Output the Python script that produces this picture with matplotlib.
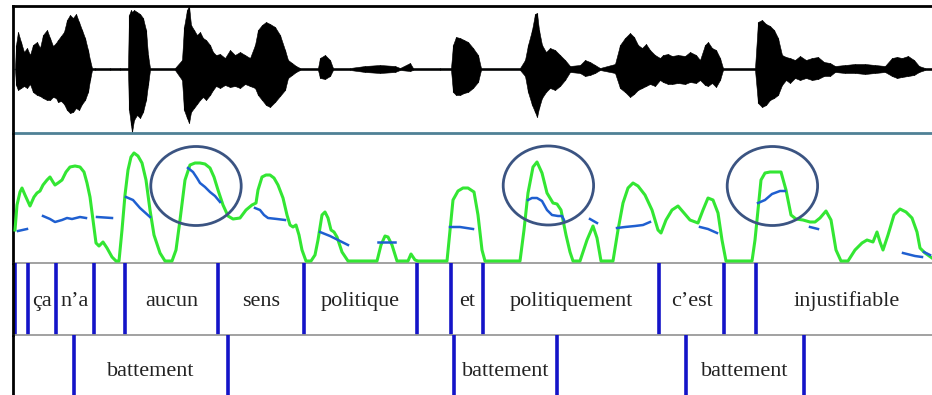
import matplotlib
matplotlib.use("Agg")
import matplotlib.pyplot as plt
from matplotlib.patches import Ellipse

# time axis in ms
wave_t = [10, 15, 25, 40, 55, 70, 85, 100, 120, 135, 150, 170, 185, 200, 215, 225, 240, 255, 270, 285,
          300, 315, 330, 345, 360, 375, 385, 395, 410, 485, 535, 575, 580, 590, 595, 605, 620, 635, 650,
          665, 675, 685, 810, 845, 855, 870, 880, 890, 905, 920, 935, 950, 965, 985, 1000, 1015, 1035,
          1060, 1085, 1110, 1135, 1160, 1185, 1210, 1225, 1245, 1265, 1285, 1310, 1335, 1360, 1375, 1395,
          1415, 1435, 1525, 1535, 1560, 1585, 1600, 1685, 1760, 1835, 1910, 1935, 1985, 2000, 2135, 2190,
          2200, 2215, 2235, 2255, 2275, 2300, 2325, 2340, 2535, 2560, 2575, 2595, 2610, 2620, 2630, 2645,
          2665, 2685, 2710, 2735, 2760, 2785, 2835, 2860, 2885, 2910, 2935, 3010, 3035, 3060, 3085, 3105,
          3125, 3145, 3165, 3185, 3210, 3235, 3250, 3275, 3295, 3325, 3360, 3385, 3415, 3435, 3460, 3475,
          3495, 3515, 3535, 3550, 3710, 3725, 3745, 3765, 3785, 3805, 3825, 3845, 3865, 3885, 3910, 3935,
          3965, 3995, 4025, 4055, 4085, 4110, 4160, 4210, 4260, 4310, 4360, 4395, 4420, 4445, 4475, 4505,
          4530, 4560, 4595]
wave_up = [0, 24, 37, 27, 17, 21, 14, 24, 27, 21, 34, 39, 31, 23, 26, 29, 33, 37, 49, 54,
           51, 55, 47, 39, 31, 19, 9, 1, 1, 1, 1, 1, 54, 59, 57, 59, 57, 55, 51,
           39, 14, 1, 1, 9, 42, 59, 63, 44, 39, 34, 37, 31, 29, 24, 17, 14, 15,
           11, 19, 14, 17, 14, 11, 24, 39, 44, 47, 45, 42, 34, 19, 9, 6,
           3, 1, 1, 11, 14, 9, 1, 1, 3, 4, 3, 1, 6, 1, 1, 1,
           24, 32, 31, 29, 27, 21, 14, 1, 1, 9, 24, 39, 55, 56, 39, 24,
           17, 21, 19, 14, 9, 3, 4, 9, 7, 4, 1, 5, 24, 31, 36, 32,
           24, 21, 25, 19, 14, 11, 14, 15, 13, 14, 13, 17, 14, 9, 24, 27,
           21, 19, 11, 1, 1, 47, 49, 45, 43, 39, 31, 14, 12, 11, 9, 13,
           9, 11, 12, 7, 6, 3, 4, 5, 5, 4, 3, 11, 12, 11, 13, 9,
           3, 1, 1]
wave_dn = [0, 16, 21, 19, 17, 19, 15, 23, 26, 27, 29, 31, 31, 28, 29, 33, 32, 35, 41, 44,
           43, 39, 41, 35, 31, 23, 11, 1, 1, 1, 1, 1, 41, 56, 63, 51, 46, 49, 43,
           31, 16, 1, 1, 11, 41, 49, 54, 43, 39, 35, 31, 28, 31, 26, 21, 17, 19,
           16, 18, 17, 19, 15, 17, 19, 26, 31, 36, 38, 33, 27, 21, 9, 6,
           3, 1, 1, 9, 10, 7, 1, 1, 3, 4, 3, 1, 2, 1, 1, 1,
           23, 26, 26, 24, 23, 19, 13, 1, 1, 7, 23, 36, 43, 48, 39, 29,
           23, 19, 21, 17, 11, 3, 4, 7, 6, 4, 1, 4, 19, 23, 28, 25,
           21, 19, 17, 15, 17, 11, 13, 15, 15, 14, 15, 13, 14, 11, 16, 17,
           14, 18, 11, 1, 1, 34, 38, 36, 31, 29, 26, 16, 11, 14, 9, 11,
           9, 11, 10, 7, 7, 3, 4, 4, 5, 4, 3, 7, 9, 8, 7, 6,
           3, 1, 1]

# intensity curve (green)
int_t = [10, 20, 35, 45, 60, 85, 105, 120, 135, 150, 170, 185, 200, 210, 225, 245, 265, 285, 310, 335,
         355, 370, 385, 400, 415, 430, 450, 470, 495, 515, 530, 545, 560, 575, 590, 605, 625, 645, 665,
         685, 705, 735, 760, 795, 815, 835, 860, 885, 910, 935, 960, 985, 1005, 1025, 1050, 1075, 1100,
         1135, 1165, 1195, 1215, 1225, 1245, 1265, 1285, 1305, 1325, 1350, 1370, 1385, 1400, 1415, 1430,
         1445, 1465, 1490, 1510, 1525, 1545, 1560, 1575, 1590, 1605, 1620, 1645, 1675, 1820, 1840, 1860,
         1875, 1895, 1920, 1975, 1990, 2010, 2025, 2170, 2185, 2200, 2225, 2250, 2275, 2305, 2325, 2345,
         2360, 2535, 2555, 2575, 2600, 2620, 2645, 2670, 2700, 2720, 2740, 2765, 2785, 2800, 2835, 2870,
         2900, 2920, 2940, 3000, 3025, 3050, 3075, 3100, 3125, 3160, 3195, 3225, 3240, 3265, 3295, 3325,
         3355, 3385, 3425, 3450, 3475, 3500, 3525, 3545, 3565, 3695, 3710, 3725, 3740, 3760, 3785, 3840,
         3865, 3890, 3915, 3950, 3985, 4010, 4035, 4065, 4090, 4115, 4140, 4175, 4210, 4245, 4270, 4300,
         4320, 4335, 4350, 4375, 4405, 4435, 4465, 4495, 4520, 4535, 4560, 4595]
int_v = [33, 58, 71, 75, 68, 57, 66, 70, 72, 78, 83, 86, 81, 78, 80, 83, 91, 96, 97, 96,
         91, 80, 66, 43, 20, 17, 21, 15, 6, 2, 2, 33, 68, 93, 106, 110, 107, 100, 83,
         53, 28, 10, 2, 2, 13, 43, 83, 98, 100, 100, 99, 95, 86, 73, 58, 47, 44,
         45, 53, 58, 60, 73, 86, 88, 88, 85, 78, 65, 48, 38, 36, 38, 28,
         13, 2, 2, 8, 23, 48, 51, 45, 33, 31, 26, 11, 2, 2, 18, 27,
         26, 18, 2, 2, 9, 3, 2, 2, 33, 63, 72, 75, 75, 71, 48, 13,
         2, 2, 33, 70, 96, 101, 90, 70, 60, 59, 53, 28, 11, 2, 2, 23,
         37, 25, 2, 2, 33, 60, 75, 80, 77, 68, 53, 33, 30, 43, 53, 57,
         50, 43, 40, 53, 65, 63, 50, 23, 2, 2, 23, 53, 83, 90, 91, 91,
         73, 48, 44, 43, 41, 41, 45, 52, 43, 13, 2, 2, 13, 20, 23, 21,
         31, 21, 13, 28, 48, 54, 51, 45, 31, 15, 10, 5]

# pitch curve (blue), voiced stretches only
pitch_segments = [
    ([25, 70], [32, 34]),
    ([150, 185, 210, 245, 270, 295, 335, 365], [47, 44, 41, 43, 45, 44, 46, 45]),
    ([420, 495], [46, 45]),
    ([565, 600, 635, 685], [66, 63, 55, 46]),
    ([875, 900, 920, 935, 960, 985, 1010, 1035], [95, 91, 85, 80, 76, 71, 67, 61]),
    ([1210, 1235, 1255, 1275, 1320, 1360], [55, 53, 48, 45, 44, 43]),
    ([1535, 1585, 1635, 1675], [31, 27, 22, 18]),
    ([1825, 1910], [21, 21]),
    ([2185, 2235, 2300], [36, 36, 34]),
    ([2575, 2595, 2620, 2645, 2670, 2695, 2725, 2745, 2755], [63, 65, 65, 62, 53, 48, 47, 47, 43]),
    ([2885, 2920], [44, 40]),
    ([3020, 3060, 3110, 3150, 3185], [35, 36, 37, 38, 41]),
    ([3435, 3475, 3520], [36, 34, 30]),
    ([3725, 3760, 3795, 3835, 3860], [60, 63, 69, 72, 72]),
    ([3985, 4025], [36, 34]),
    ([4450, 4510, 4545], [10, 7, 6]),
    ([4555, 4585], [11, 8]),
]

# circled accents (time, level)
accent_t = [915, 2677, 3797]
accent_v = [77, 77.5, 77]

words = ["", "ça", "n’a", "", "aucun", "sens", "politique", "", "et",
         "politiquement", "c’est", "", "injustifiable"]
word_bounds = [10, 75, 215, 405, 560, 1025, 1455, 2020, 2190, 2350, 3230, 3555, 3715, 4625]

beat_starts = [305, 2205, 3365]
beat_ends = [1075, 2720, 3955]
beat_label = "battement"

W, H = 932, 395
T_END = 4595
BLUE = "#1414c8"
GREEN = "#33e633"
PITCH = "#1f5fd0"


def rect(x0, y0, x1, y1):
    return [x0 / W, 1 - y1 / H, (x1 - x0) / W, (y1 - y0) / H]


fig = plt.figure(figsize=(W / 100, H / 100), dpi=100)
fig.patch.set_facecolor("white")

ax_w = fig.add_axes(rect(13, 6, W, 133))
ax_p = fig.add_axes(rect(13, 133, W, 263))
ax_k = fig.add_axes(rect(13, 263, W, 335))
ax_b = fig.add_axes(rect(13, 335, W, 402))

for ax in (ax_w, ax_p, ax_k, ax_b):
    ax.set_xlim(0, T_END)
    ax.set_xticks([])
    ax.set_yticks([])
    ax.spines["right"].set_visible(False)
    ax.spines["top"].set_visible(False)
    ax.spines["left"].set_color("black")
    ax.spines["left"].set_linewidth(2)
    ax.patch.set_alpha(0)

# waveform
ax_w.set_ylim(-64, 63)
ax_w.axhline(0, color="#5f8494", lw=0.9, zorder=1)
neg = [-d for d in wave_dn]
ax_w.fill_between(wave_t, wave_up, neg, color="black", lw=0.4, zorder=2)
ax_w.vlines(wave_t, neg, wave_up, color="black", lw=0.8, zorder=2)
ax_w.spines["top"].set_visible(True)
ax_w.spines["top"].set_linewidth(2)
ax_w.spines["bottom"].set_color("#4f8196")
ax_w.spines["bottom"].set_linewidth(2)

# intensity + pitch
ax_p.set_ylim(0, 130)
ax_p.plot(int_t, int_v, color=GREEN, lw=2.2, solid_joinstyle="round", zorder=3)
for ts, vs in pitch_segments:
    ax_p.plot(ts, vs, color=PITCH, lw=1.8, zorder=4)
for t, v in zip(accent_t, accent_v):
    ax_p.add_patch(Ellipse((t, v), 452, 79, fill=False, ec="#3b5482", lw=2, zorder=5))
ax_p.spines["bottom"].set_color("#9a9a9a")
ax_p.spines["bottom"].set_linewidth(1.3)

# word tier
ax_k.set_ylim(0, 1)
ax_k.vlines(word_bounds, 0, 1, color=BLUE, lw=2.6)
for i, w in enumerate(words):
    if w:
        mid = (word_bounds[i] + word_bounds[i + 1]) / 2
        ax_k.text(mid, 0.40, w, ha="center", va="baseline", fontsize=16,
                  family="Liberation Serif", color="#222222")
ax_k.spines["bottom"].set_color("#9a9a9a")
ax_k.spines["bottom"].set_linewidth(1.3)

# beat tier
ax_b.set_ylim(0, 1)
ax_b.spines["bottom"].set_visible(False)
ax_b.vlines(beat_starts + beat_ends, 0, 1, color=BLUE, lw=2.6)
for s, e in zip(beat_starts, beat_ends):
    ax_b.text((s + e) / 2, 0.39, beat_label, ha="center", va="baseline", fontsize=16,
              family="Liberation Serif", color="#222222")

fig.savefig("out.png", dpi=100)
